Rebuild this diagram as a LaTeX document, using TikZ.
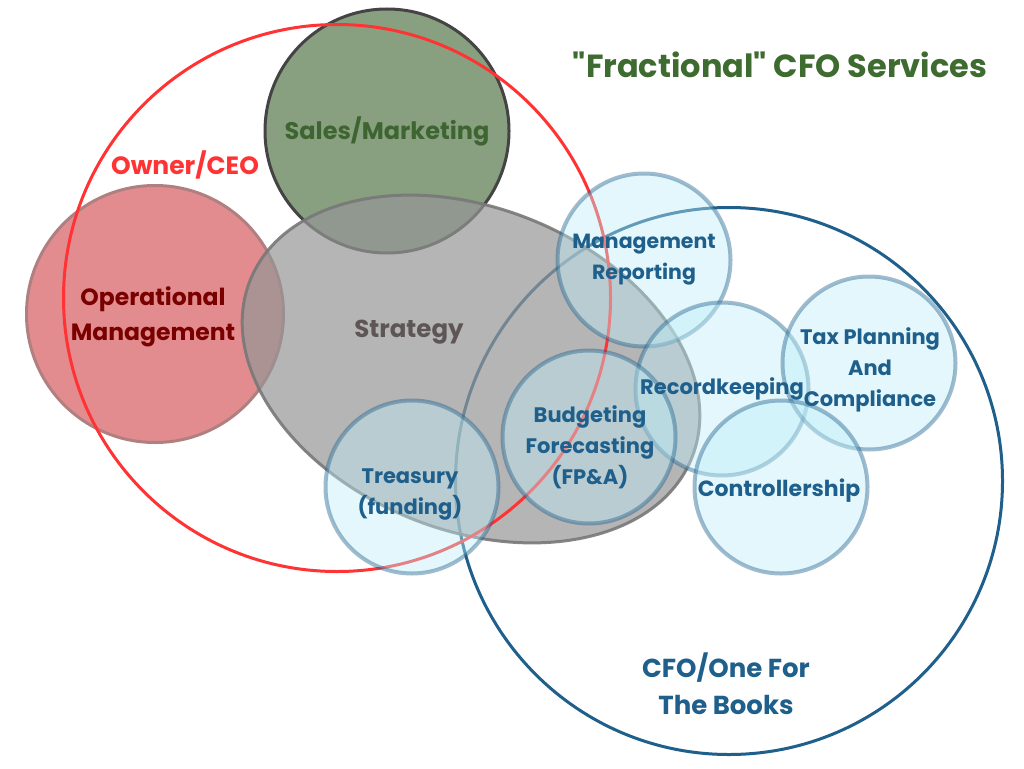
\documentclass[tikz,border=0pt]{standalone}
\usepackage{fontspec}
\setmainfont{Poppins}[Ligatures=TeXOff]
\usetikzlibrary{shapes.geometric}
\definecolor{salesfill}{RGB}{136,160,128}
\definecolor{salesdraw}{RGB}{68,68,68}
\definecolor{opfill}{RGB}{227,140,143}
\definecolor{opdraw}{RGB}{176,128,128}
\definecolor{optext}{RGB}{122,0,0}
\definecolor{cfoblue}{RGB}{31,95,139}
\definecolor{stratfill}{RGB}{150,150,150}
\definecolor{stratdraw}{RGB}{120,120,120}
\definecolor{strattext}{RGB}{94,86,86}
\definecolor{ownerred}{RGB}{255,51,51}
\definecolor{bubfill}{RGB}{190,238,248}
\definecolor{titlegreen}{RGB}{62,107,48}
\definecolor{salestext}{RGB}{62,101,49}
\tikzset{
  ring/.style={circle, inner sep=0pt, outer sep=0pt},
  salescircle/.style={ring, fill=salesfill, draw=salesdraw, line width=3pt},
  opcircle/.style={ring, fill=opfill, draw=opdraw, line width=3pt},
  cfocircle/.style={ring, draw=cfoblue, line width=3pt},
  ownercircle/.style={ring, draw=ownerred, line width=3pt},
  stratshape/.style={ellipse, inner sep=0pt, outer sep=0pt, fill=stratfill, fill opacity=0.7, draw=stratdraw, draw opacity=0.9, line width=3pt},
  bubble/.style={ring, minimum size=173pt, fill=bubfill, fill opacity=0.42, draw=cfoblue, draw opacity=0.42, line width=4pt},
  lbl/.style={align=center, inner sep=0pt, font=\bfseries\fontsize{21}{31}\selectfont},
  bublbl/.style={lbl, text=cfoblue},
}
\begin{document}
\begin{tikzpicture}[x=1pt,y=-1pt]
\useasboundingbox (0,0) rectangle (1024,768);
\fill[white] (0,0) rectangle (1024,768);
% shapes
\node[salescircle, minimum size=244pt] (sales) at (387,131) {};
\node[opcircle, minimum size=257pt] (ops) at (155,314) {};
\node[cfocircle, minimum size=547pt] (cfo) at (729,481) {};
\node[stratshape, minimum width=476pt, minimum height=322pt, rotate=-22] (strat) at (471,369) {};
\node[ownercircle, minimum size=547pt] (owner) at (337,298) {};
\node[bubble] (mr) at (644,260) {};
\node[bubble] (rk) at (722,389) {};
\node[bubble] (tax) at (869,363) {};
\node[bubble] (ctl) at (781,487) {};
\node[bubble] (bud) at (589,437) {};
\node[bubble] (tre) at (412,487) {};
% labels
\node[lbl, text=titlegreen, font=\bfseries\fontsize{32}{36}\selectfont] (title) at (780,65) {"Fractional" CFO Services};
\node[lbl, text=salestext, font=\bfseries\fontsize{24}{31}\selectfont] (salesl) at (387,131) {Sales/Marketing};
\node[lbl, text=ownerred, font=\bfseries\fontsize{25}{31}\selectfont] (ownerl) at (185,165) {Owner/CEO};
\node[lbl, text=optext, font=\bfseries\fontsize{23.5}{35}\selectfont] (opsl) at (153,317) {Operational\\Management};
\node[lbl, text=strattext, font=\bfseries\fontsize{24.5}{31}\selectfont] (stratl) at (409,332) {Strategy};
\node[bublbl, font=\bfseries\fontsize{20.5}{31}\selectfont] (mrl) at (644,260) {Management\\Reporting};
\node[bublbl] (rkl) at (722,389) {Recordkeeping};
\node[bublbl] (taxl) at (870,370) {Tax Planning\\And\\Compliance};
\node[bublbl, font=\bfseries\fontsize{22}{31}\selectfont] (ctll) at (779,491) {Controllership};
\node[bublbl] (budl) at (590,447) {Budgeting\\Forecasting\\(FP\&A)};
\node[bublbl] (trel) at (410,495) {Treasury\\(funding)};
\node[lbl, text=cfoblue, font=\bfseries\fontsize{26}{37}\selectfont] (cfol) at (726,684) {CFO/One For\\The Books};
\end{tikzpicture}
\end{document}
